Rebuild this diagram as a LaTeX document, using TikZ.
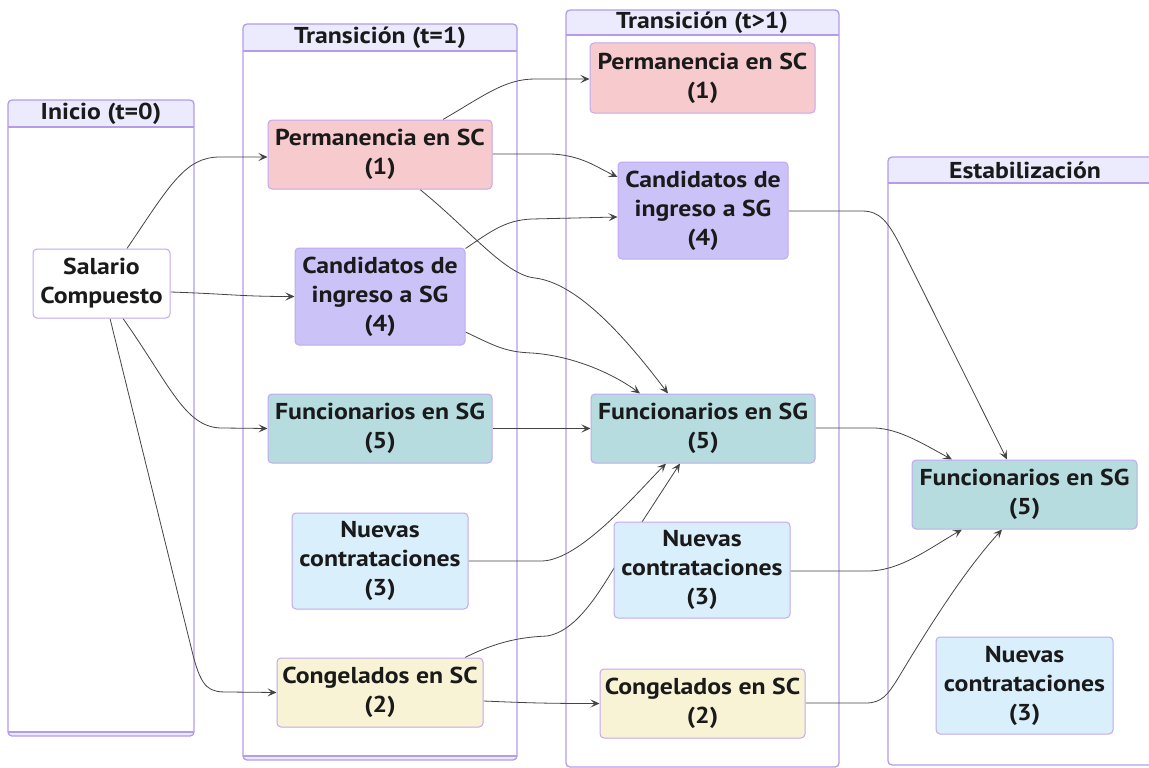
\documentclass[tikz,border=0pt]{standalone}
\usepackage{fontspec}
\setmainfont{PT Sans}[FakeStretch=1.12]
\usetikzlibrary{arrows.meta}
\pgfdeclarelayer{bg}
\pgfdeclarelayer{edges}
\pgfsetlayers{bg,edges,main}
\definecolor{permfill}{HTML}{F7CBCD}
\definecolor{candfill}{HTML}{CBC3F7}
\definecolor{funcfill}{HTML}{B6DCE0}
\definecolor{nuevfill}{HTML}{DAEFFC}
\definecolor{congfill}{HTML}{F9F3D6}
\definecolor{nodeborder}{HTML}{C2A8EE}
\definecolor{clusterline}{HTML}{B49CEA}
\definecolor{titlefill}{HTML}{ECEBFD}
\definecolor{txt}{HTML}{1A1A1A}
\definecolor{edgecol}{HTML}{444444}
\tikzset{
  box/.style={draw=nodeborder, line width=1pt, rounded corners=4pt, align=center,
    font={\bfseries\fontsize{23pt}{29pt}\selectfont}, text=txt, inner sep=0pt},
  ttl/.style={font={\bfseries\fontsize{23pt}{25pt}\selectfont}, text=txt, inner sep=0pt},
  edge/.style={draw=edgecol, line width=0.8pt},
  arr/.style={edge, -{Stealth[length=9pt,width=8pt,inset=4pt]}},
}
\begin{document}
\begin{tikzpicture}[x=1pt,y=-1pt]
\useasboundingbox (0,0) rectangle (1149,768);
% clusters
\begin{pgfonlayer}{bg}
\fill[white] (0,0) rectangle (1149,768);
\foreach \xa/\ya/\xb/\yb/\yt/\hasbot in {8/100/194/736/127/1, 243/24/517/760/51/1, 566/10/839/767/35/0, 888/157/1162/765/183/0}{
  \fill[white, rounded corners=4pt] (\xa,\ya) rectangle (\xb,\yb);
  \begin{scope}
    \clip (\xa,\ya) rectangle (\xb,\yt);
    \fill[titlefill, rounded corners=4pt] (\xa,\ya) rectangle (\xb,\yt+10);
  \end{scope}
  \ifnum\hasbot=1
  \begin{scope}
    \clip (\xa,\yb-4) rectangle (\xb,\yb);
    \fill[titlefill, rounded corners=4pt] (\xa,\yb-12) rectangle (\xb,\yb);
  \end{scope}
  \draw[clusterline, line width=1.3pt] (\xa,\yb-4) -- (\xb,\yb-4);
  \fi
  \draw[clusterline, line width=1.3pt] (\xa,\yt) -- (\xb,\yt);
  \draw[clusterline, line width=1.3pt, rounded corners=4pt] (\xa,\ya) rectangle (\xb,\yb);
}
\end{pgfonlayer}
\node[ttl] (t0) at (101,114) {Inicio (t=0)};
\node[ttl] (t1) at (380,38) {Transición (t=1)};
\node[ttl] (t2) at (702,23) {Transición (t>1)};
\node[ttl] (t3) at (1025,170) {Estabilización};
% nodes
\node[box, fill=white, minimum width=137pt, minimum height=69pt] (sal) at (101.5,283.5) {Salario\\Compuesto};
\node[box, fill=permfill, minimum width=224pt, minimum height=69pt] (p1) at (380,154.5) {Permanencia en SC\\(1)};
\node[box, fill=candfill, minimum width=170pt, minimum height=97pt] (c1) at (380,296.5) {Candidatos de\\ingreso a SG\\(4)};
\node[box, fill=funcfill, minimum width=224pt, minimum height=69pt] (f1) at (380,428.5) {Funcionarios en SG\\(5)};
\node[box, fill=nuevfill, minimum width=176pt, minimum height=96pt] (n1) at (380,561) {Nuevas\\contrataciones\\(3)};
\node[box, fill=congfill, minimum width=206pt, minimum height=69pt] (g1) at (380,692.5) {Congelados en SC\\(2)};
\node[box, fill=permfill, minimum width=225pt, minimum height=70pt] (p2) at (702.5,78) {Permanencia en SC\\(1)};
\node[box, fill=candfill, minimum width=170pt, minimum height=97pt] (c2) at (703,210.5) {Candidatos de\\ingreso a SG\\(4)};
\node[box, fill=funcfill, minimum width=224pt, minimum height=69pt] (f2) at (703,428.5) {Funcionarios en SG\\(5)};
\node[box, fill=nuevfill, minimum width=176pt, minimum height=96pt] (n2) at (702,570) {Nuevas\\contrataciones\\(3)};
\node[box, fill=congfill, minimum width=205pt, minimum height=69pt] (g2) at (702.5,703.5) {Congelados en SC\\(2)};
\node[box, fill=funcfill, minimum width=225pt, minimum height=69pt] (f3) at (1024.5,494.5) {Funcionarios en SG\\(5)};
\node[box, fill=nuevfill, minimum width=177pt, minimum height=97pt] (n3) at (1024.5,685.5) {Nuevas\\contrataciones\\(3)};
% edges
\begin{pgfonlayer}{edges}
\draw[arr] ([shift={(25.5,0)}]sal.north) .. controls (170,185) and (185,157) .. (220,157) -- ([shift={(0,2.5)}]p1.west);
\draw[arr] ([shift={(0,8.5)}]sal.east) .. controls (230,294) and (240,296.5) .. (c1.west);
\draw[arr] ([shift={(21.5,0)}]sal.south) .. controls (170,385) and (185,428) .. (222,428) -- (f1.west);
\draw[arr] ([shift={(8.5,0)}]sal.south) -- (193,655) .. controls (202,690) and (210,692) .. (228,692) -- (g1.west);
\draw[arr] ([shift={(63,0)}]p1.north) .. controls (485,95) and (505,79) .. (535,79) -- ([shift={(0,1)}]p2.west);
\draw[arr] ([shift={(0,-0.5)}]p1.east) -- (548,154) .. controls (580,154) and (598,168) .. ([shift={(0,-33.5)}]c2.west);
\draw[arr] ([shift={(40,0)}]p1.south) .. controls (470,230) and (505,275) .. (535,278) .. controls (575,283) and (620,330) .. ([shift={(-35,0)}]f2.north);
\draw[arr] ([shift={(0,1)}]c1.north east) .. controls (490,232) and (505,220) .. (532,219) -- ([shift={(0,6.5)}]c2.west);
\draw[arr] ([shift={(0,35.5)}]c1.east) .. controls (495,346) and (505,352) .. (532,353) .. controls (575,356) and (615,375) .. ([shift={(-63,0)}]f2.north);
\draw[arr] (f1.east) -- (f2.west);
\draw[arr] (n1.east) -- (542,561) .. controls (580,560) and (635,495) .. ([shift={(-37,0)}]f2.south);
\draw[arr] ([shift={(85,0)}]g1.north) .. controls (500,640) and (525,637) .. (547,636) .. controls (585,630) and (612,568) .. (642,522) -- ([shift={(-23,0)}]f2.south);
\draw[arr] ([shift={(0,8.5)}]g1.east) .. controls (530,703) and (550,703.5) .. (g2.west);
\draw[arr] ([shift={(0,0.5)}]c2.east) -- (862,211) .. controls (880,211) and (888,222) .. (900,245) -- ([shift={(-17.5,0)}]f3.north);
\draw[arr] ([shift={(0,-0.5)}]f2.east) -- (875,428) .. controls (900,429) and (925,445) .. ([shift={(-72.5,0)}]f3.north);
\draw[arr] ([shift={(0,1)}]n2.east) -- (868,571) .. controls (900,571) and (930,548) .. ([shift={(-62.5,0)}]f3.south);
\draw[arr] ([shift={(0,-0.5)}]g2.east) -- (866,703) .. controls (882,703) and (888,694) .. (897,680) .. controls (930,625) and (965,570) .. ([shift={(-22.5,0)}]f3.south);
\end{pgfonlayer}
\end{tikzpicture}
\end{document}
